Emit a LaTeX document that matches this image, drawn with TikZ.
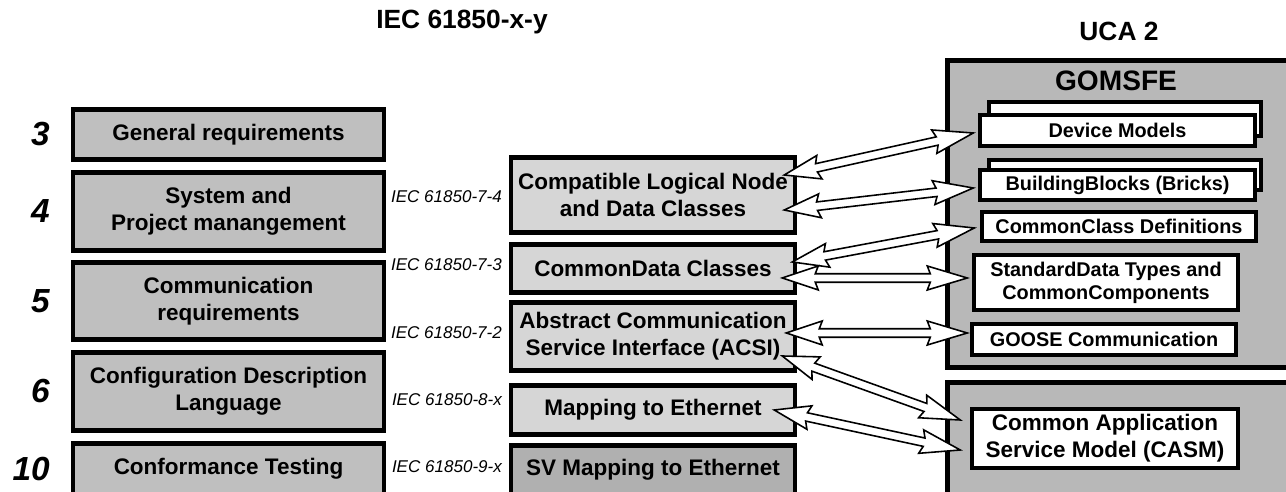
\documentclass[tikz,border=0pt]{standalone}
\usepackage{fontspec}
\setmainfont{Liberation Sans}
\usetikzlibrary{calc}
\definecolor{reqgray}{RGB}{191,191,191}
\definecolor{acsigray}{RGB}{214,214,214}
\definecolor{svgray}{RGB}{176,176,176}
\definecolor{ucagray}{RGB}{184,184,184}
% hollow double-headed block arrow between two named points
\newcommand{\biarrow}[2]{%
  \filldraw[arrowbody] (#1)
    -- ($(#1)!0.72cm!(#2)!0.24cm!90:(#2)$)
    -- ($(#1)!0.66cm!(#2)!0.085cm!90:(#2)$)
    -- ($(#2)!0.74cm!(#1)!0.085cm!-90:(#1)$)
    -- ($(#2)!0.80cm!(#1)!0.24cm!-90:(#1)$)
    -- (#2)
    -- ($(#2)!0.80cm!(#1)!0.24cm!90:(#1)$)
    -- ($(#2)!0.74cm!(#1)!0.085cm!90:(#1)$)
    -- ($(#1)!0.66cm!(#2)!0.085cm!-90:(#2)$)
    -- ($(#1)!0.72cm!(#2)!0.24cm!-90:(#2)$)
    -- cycle;}

\begin{document}
\begin{tikzpicture}[x=0.02cm, y=-0.02cm,
		reqbox/.style={draw, line width=2.6pt, fill=reqgray, minimum width=6.22cm,
		               inner sep=1pt, align=center, font=\fontsize{12.8}{15.4}\selectfont\bfseries},
		modbox/.style={reqbox, fill=acsigray, minimum width=5.68cm},
		ucabox/.style={draw, line width=2.4pt, fill=ucagray, minimum width=6.9cm},
		ucaitem/.style={draw, line width=2pt, fill=white, inner sep=1pt, align=center,
		                font=\fontsize{11.3}{13}\selectfont\bfseries},
		partno/.style={anchor=east, font=\fontsize{19}{19}\selectfont\bfseries\itshape},
		stdref/.style={anchor=east, inner sep=1pt, font=\fontsize{9.7}{11}\selectfont\itshape},
		heading/.style={font=\fontsize{15}{18}\selectfont\bfseries},
		arrowbody/.style={fill=white, draw=black, line width=0.9pt, line join=miter}]
		\useasboundingbox (0,0) rectangle (1286,492);
		\node[heading] (iectitle) at (462,22) {IEC 61850-x-y};
		\node[heading] (ucatitle) at (1119,31) {UCA 2};
		% parts of the standard
		\foreach \nm/\no/\y/\h/\txt in {gen/3/134.5/1.0/{General requirements},
				sys/4/211.5/1.56/{System and\\Project manangement},
				com/5/301/1.54/{Communication\\requirements},
				scl/6/391.5/1.56/{Configuration Description\\Language},
				test/10/469/1.02/{Conformance Testing}} {
			\node[reqbox, minimum height=\h cm] (\nm) at (228.5,\y) {\txt};
			\node[partno] (\nm-no) at (56,\y) {\no};
		}
		\foreach \nm/\y/\h/\txt in {lnclass/195/1.5/{Compatible Logical Node\\and Data Classes},
				cdclass/268.5/0.96/{CommonData Classes},
				acsi/336.5/1.36/{Abstract Communication\\Service Interface (ACSI)},
				mapeth/410/0.98/{Mapping to Ethernet}}
			\node[modbox, minimum height=\h cm] (\nm) at (653,\y) {\txt};
		\node[modbox, fill=svgray, minimum height=0.98cm] (sveth) at (653,470) {SV Mapping to Ethernet};
		\foreach \nm/\y/\txt in {r74/197/7-4, r73/265/7-3, r72/333/7-2, r8x/400/8-x, r9x/467/9-x}
			\node[stdref] (\nm) at (504,\y) {IEC 61850-\txt};
		% UCA 2 side
		\node[ucabox, minimum height=6.14cm] (gomsfe) at (1120,214) {};
		\node[ucabox, minimum height=2.3cm] (casmarea) at (1120,440) {};
		\node[font=\fontsize{16}{18}\selectfont\bfseries] (gomsfe-t) at (1116,81) {GOMSFE};
		\node[ucaitem, minimum width=5.44cm, minimum height=0.68cm] (devmod-bk) at (1125,119) {};
		\node[ucaitem, minimum width=5.5cm, minimum height=0.62cm] (devmod) at (1117.5,130.5) {Device Models};
		\node[ucaitem, minimum width=5.44cm, minimum height=0.6cm] (bricks-bk) at (1125,175) {};
		\node[ucaitem, minimum width=5.5cm, minimum height=0.6cm] (bricks) at (1117.5,185) {BuildingBlocks (Bricks)};
		\node[ucaitem, minimum width=5.48cm, minimum height=0.58cm] (ccdef) at (1119,226.5) {CommonClass Definitions};
		\node[ucaitem, minimum width=5.28cm, minimum height=1.1cm] (stdtypes) at (1106,282.5) {StandardData Types and\\CommonComponents};
		\node[ucaitem, minimum width=5.28cm, minimum height=0.62cm] (goose) at (1104,339.5) {GOOSE Communication};
		\node[ucaitem, minimum width=5.32cm, minimum height=1.18cm,
		      font=\fontsize{12.8}{15.4}\selectfont\bfseries] (casm) at (1105,438.5) {Common Application\\Service Model (CASM)};
		% arrow ends
		\coordinate (ln-up) at ([xshift=-0.26cm, yshift=0.40cm]lnclass.east);
		\coordinate (ln-dn) at ([xshift=-0.26cm, yshift=-0.30cm]lnclass.east);
		\coordinate (cd-up) at ([xshift=-0.10cm, yshift=0.13cm]cdclass.east);
		\coordinate (cd-dn) at ([xshift=-0.30cm, yshift=-0.19cm]cdclass.east);
		\coordinate (acsi-up) at ([xshift=-0.22cm, yshift=0.07cm]acsi.east);
		\coordinate (acsi-dn) at ([xshift=-0.30cm, yshift=-0.39cm]acsi.east);
		\coordinate (map-in) at ([xshift=-0.46cm]mapeth.east);
		\coordinate (dm-in) at ([xshift=-0.10cm, yshift=-0.05cm]devmod.west);
		\coordinate (bb-in) at ([xshift=-0.10cm, yshift=-0.06cm]bricks.west);
		\coordinate (cc-in) at ([xshift=-0.12cm, yshift=-0.03cm]ccdef.west);
		\coordinate (st-in) at ([xshift=-0.10cm, yshift=0.09cm]stdtypes.west);
		\coordinate (go-in) at ([xshift=-0.06cm, yshift=0.13cm]goose.west);
		\coordinate (ca-up) at ([xshift=-0.20cm, yshift=0.37cm]casm.west);
		\coordinate (ca-dn) at ([xshift=-0.20cm, yshift=-0.23cm]casm.west);
		\biarrow{ln-up}{dm-in}
		\biarrow{ln-dn}{bb-in}
		\biarrow{cd-up}{cc-in}
		\biarrow{cd-dn}{st-in}
		\biarrow{acsi-up}{go-in}
		\biarrow{acsi-dn}{ca-up}
		\biarrow{map-in}{ca-dn}
	\end{tikzpicture}
\end{document}
